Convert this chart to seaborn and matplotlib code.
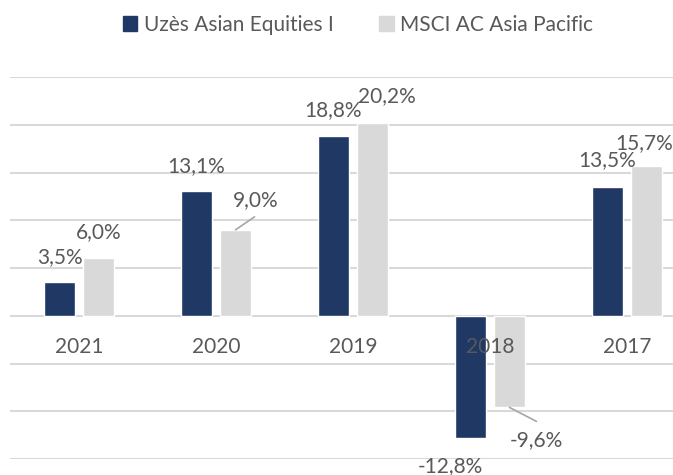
import matplotlib
matplotlib.use('Agg')
import pandas as pd
import matplotlib.pyplot as plt
import seaborn as sns

# data
years = ['2021', '2020', '2019', '2018', '2017']
fund = [3.5, 13.1, 18.8, -12.8, 13.5]
index = [6.0, 9.0, 20.2, -9.6, 15.7]
series_names = ['Uzès Asian Equities I', 'MSCI AC Asia Pacific']

df = pd.DataFrame({
    'year': years * 2,
    'value': fund + index,
    'series': [series_names[0]] * len(years) + [series_names[1]] * len(years),
})

navy = '#203864'
grey = '#d9d9d9'
txt = '#595959'

sns.set_style('white')
plt.rcParams['font.family'] = ['Lato', 'DejaVu Sans']

fig = plt.figure(figsize=(6.73, 4.75), dpi=100)
ax = fig.add_axes([10 / 673, 1 - 459 / 475, 663 / 673, (459 - 77) / 475])

sns.barplot(data=df, x='year', y='value', hue='series', palette=[navy, grey],
            width=0.57, gap=0.2, ax=ax, legend=False, saturation=1)

ax.set_ylim(-15, 25)
ax.set_xlim(-0.504, 4.336)
ax.set_yticks(range(-15, 26, 5))
ax.yaxis.grid(True, color=grey, linewidth=1.5)
ax.set_axisbelow(True)
ax.tick_params(left=False, bottom=False, labelleft=False, labelbottom=False)
ax.set_xlabel('')
ax.set_ylabel('')
for s in ax.spines.values():
    s.set_visible(False)

# label offsets in pixels from the bar end (dx, dy)
fund_off = [(0, 25), (0, 25), (0, 26), (-20, -28), (0, 27)]
index_off = [(0, 26), (20, 30), (14, 27), (27, -33), (-2, 23)]
# leader lines (bar index -> end offset)
leaders = {1: (19, 13), 3: (27, -14)}

def fmt(v):
    return f'{v:.1f}%'.replace('.', ',')

for cont, vals, offs, name in zip(ax.containers, [fund, index], [fund_off, index_off], series_names):
    for i, (bar, v) in enumerate(zip(cont, vals)):
        x = bar.get_x() + bar.get_width() / 2
        ax.annotate(fmt(v), xy=(x, v), xytext=offs[i], textcoords='offset pixels',
                    ha='center', va='center', fontsize=15, color=txt,
                    annotation_clip=False)
        if name == series_names[1] and i in leaders:
            ax.annotate('', xy=(x, v), xytext=leaders[i], textcoords='offset pixels',
                        arrowprops=dict(arrowstyle='-', color='#a6a6a6', lw=1.2,
                                        shrinkA=0, shrinkB=0))

for pos, yr in zip(ax.get_xticks(), years):
    ax.annotate(yr, xy=(pos, 0), xytext=(0, -31), textcoords='offset pixels',
                ha='center', va='center', fontsize=15, color=txt, zorder=5)

handles = [plt.Rectangle((0, 0), 1, 1, color=c) for c in (navy, grey)]
fig.legend(handles, series_names, loc='center', bbox_to_anchor=(358 / 673, 1 - 25 / 475),
           ncol=2, frameon=False, fontsize=15, labelcolor=txt,
           handlelength=0.7, handleheight=0.7, handletextpad=0.3, columnspacing=2.2)

fig.savefig('out.png', dpi=100)
